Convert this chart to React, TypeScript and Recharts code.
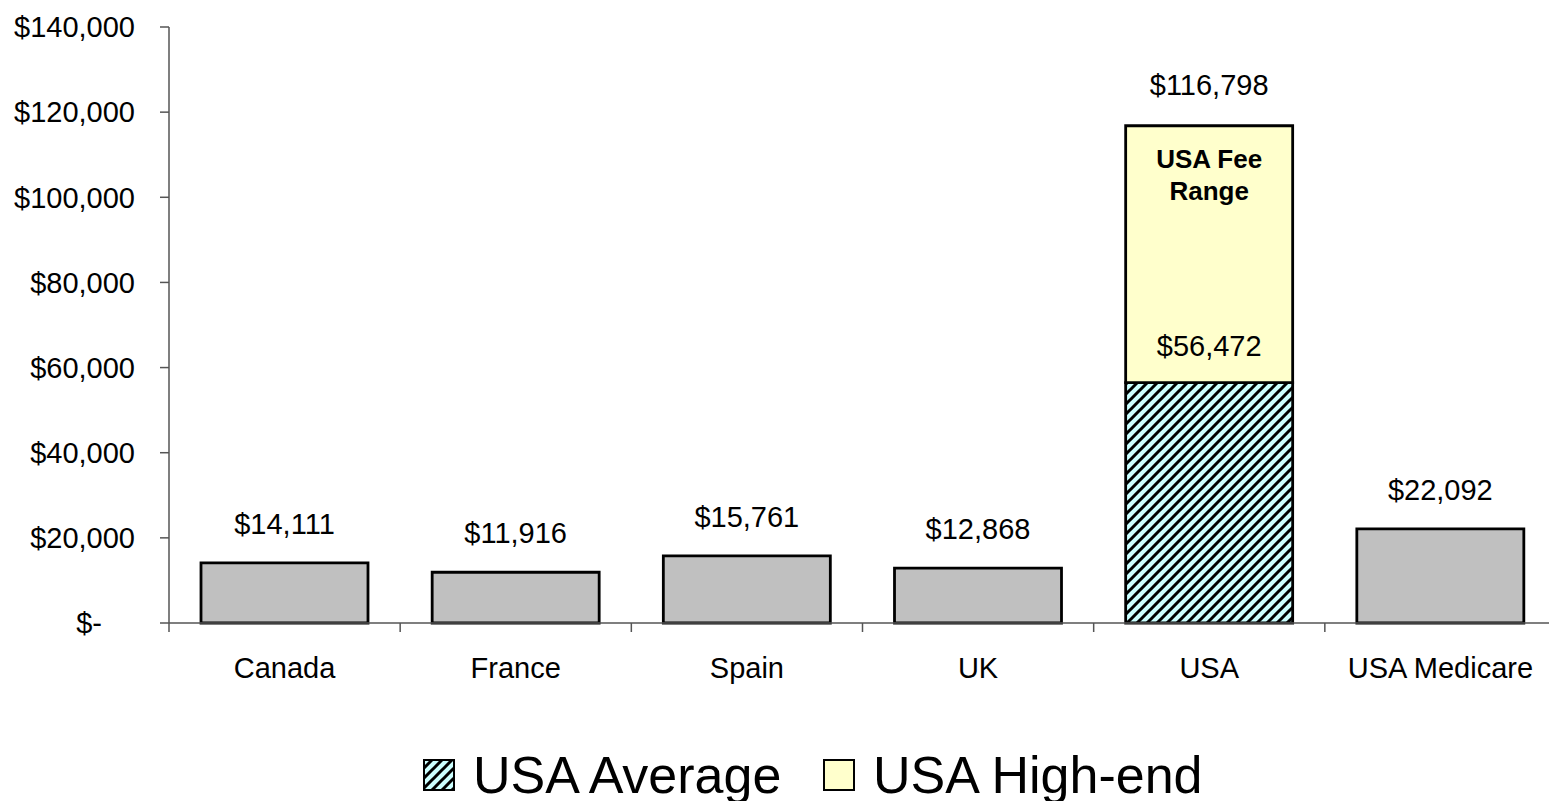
import React from "react";
import { BarChart, Bar, XAxis, YAxis, Legend, LabelList } from "recharts";

const categories = ["Canada", "France", "Spain", "UK", "USA", "USA Medicare"];
const countryCosts = [14111, 11916, 15761, 12868, 0, 22092];
const usaAverage = [0, 0, 0, 0, 56472, 0];
const usaHighEnd = [0, 0, 0, 0, 116798, 0];
const yTicks = [0, 20000, 40000, 60000, 80000, 100000, 120000, 140000];

const data = categories.map((name, i) => ({
  name,
  cost: countryCosts[i],
  average: usaAverage[i],
  highExtra: usaHighEnd[i] > 0 ? usaHighEnd[i] - usaAverage[i] : 0,
  highEnd: usaHighEnd[i],
}));

const FONT = "'Liberation Sans', Arial, sans-serif";
const WIDTH = 1556;
const HEIGHT = 801;
const Y_AXIS_W = 169;
const BAND = (WIDTH - Y_AXIS_W) / categories.length;
const AXIS = "#555";

const money = (v: number) => (v === 0 ? "$-" : "$" + v.toLocaleString("en-US"));

const YTick = (props: any) => {
  const { x, y, payload } = props;
  const v = payload.value as number;
  return (
    <text
      x={v === 0 ? x - 33 : x}
      y={y}
      dy="0.355em"
      textAnchor="end"
      fontSize={29}
      fontFamily={FONT}
      fill="#000"
    >
      {money(v)}
    </text>
  );
};

const XTick = (props: any) => {
  const { x, y, payload, index } = props;
  const left = x - BAND / 2;
  return (
    <g>
      <line x1={left} x2={left} y1={y} y2={y + 9} stroke={AXIS} strokeWidth={1.5} />
      {index === categories.length - 1 && (
        <line x1={left + BAND} x2={left + BAND} y1={y} y2={y + 9} stroke={AXIS} strokeWidth={1.5} />
      )}
      <text x={x} y={y + 55} textAnchor="middle" fontSize={29} fontFamily={FONT} fill="#000">
        {payload.value}
      </text>
    </g>
  );
};

const valueLabel = (offset: number) => (props: any) => {
  const { x, y, width, value } = props;
  if (!value) return null;
  return (
    <text
      x={x + width / 2}
      y={y - offset}
      dominantBaseline="central"
      textAnchor="middle"
      fontSize={29}
      fontFamily={FONT}
      fill="#000"
    >
      {money(value)}
    </text>
  );
};

const highLabel = (props: any) => {
  const { x, y, width, value } = props;
  if (!value) return null;
  const cx = x + width / 2;
  return (
    <g fontFamily={FONT} fill="#000" textAnchor="middle">
      <text x={cx} y={y - 41} dominantBaseline="central" fontSize={29}>
        {money(value)}
      </text>
      <text x={cx} y={y + 33} dominantBaseline="central" fontSize={26} fontWeight="bold">
        USA Fee
      </text>
      <text x={cx} y={y + 65} dominantBaseline="central" fontSize={26} fontWeight="bold">
        Range
      </text>
    </g>
  );
};

const LegendBox = () => (
  <div style={{ position: "relative", height: 50, fontFamily: FONT, fontSize: 52, lineHeight: "50px" }}>
    <svg width={32} height={32} style={{ position: "absolute", left: 423, top: 9 }}>
      <rect x={1} y={1} width={30} height={30} fill="url(#hatch)" stroke="#000" strokeWidth={2} />
    </svg>
    <span style={{ position: "absolute", left: 473, top: 0, whiteSpace: "nowrap" }}>USA Average</span>
    <svg width={32} height={32} style={{ position: "absolute", left: 823, top: 9 }}>
      <rect x={1} y={1} width={30} height={30} fill="#FFFFCC" stroke="#000" strokeWidth={2} />
    </svg>
    <span style={{ position: "absolute", left: 873, top: 0, whiteSpace: "nowrap" }}>USA High-end</span>
  </div>
);

export default function App() {
  return (
    <div style={{ position: "fixed", left: 0, top: 0, width: WIDTH, height: HEIGHT, background: "#fff" }}>
      <svg width={0} height={0} style={{ position: "absolute" }}>
        <defs>
          <pattern id="hatch" patternUnits="userSpaceOnUse" width={10} height={10}>
            <rect width={10} height={10} fill="#CCFFFF" />
            <path d="M-2,2 l4,-4 M0,10 l10,-10 M8,12 l4,-4" stroke="#000" strokeWidth={3} />
          </pattern>
        </defs>
      </svg>
      <BarChart
        width={WIDTH}
        height={HEIGHT}
        data={data}
        margin={{ top: 27, right: 0, bottom: 1, left: 0 }}
        barSize={167}
      >
        <XAxis
          dataKey="name"
          height={127}
          tickLine={false}
          tickSize={0}
          tickMargin={0}
          axisLine={{ stroke: AXIS, strokeWidth: 1.5 }}
          tick={<XTick />}
          interval={0}
        />
        <YAxis
          width={Y_AXIS_W}
          domain={[0, 140000]}
          ticks={yTicks}
          tickSize={9}
          tickMargin={25}
          axisLine={{ stroke: AXIS, strokeWidth: 1.5 }}
          tickLine={{ stroke: AXIS, strokeWidth: 1.5 }}
          tick={<YTick />}
        />
        <Legend verticalAlign="bottom" height={50} content={() => <LegendBox />} />
        <Bar dataKey="cost" stackId="a" fill="#C0C0C0" stroke="#000" strokeWidth={2.8} isAnimationActive={false}>
          <LabelList dataKey="cost" content={valueLabel(39)} />
        </Bar>
        <Bar dataKey="average" stackId="a" fill="url(#hatch)" stroke="#000" strokeWidth={2.8} isAnimationActive={false}>
          <LabelList dataKey="average" content={valueLabel(37)} />
        </Bar>
        <Bar dataKey="highExtra" stackId="a" fill="#FFFFCC" stroke="#000" strokeWidth={2.8} isAnimationActive={false}>
          <LabelList dataKey="highEnd" content={highLabel} />
        </Bar>
      </BarChart>
    </div>
  );
}
